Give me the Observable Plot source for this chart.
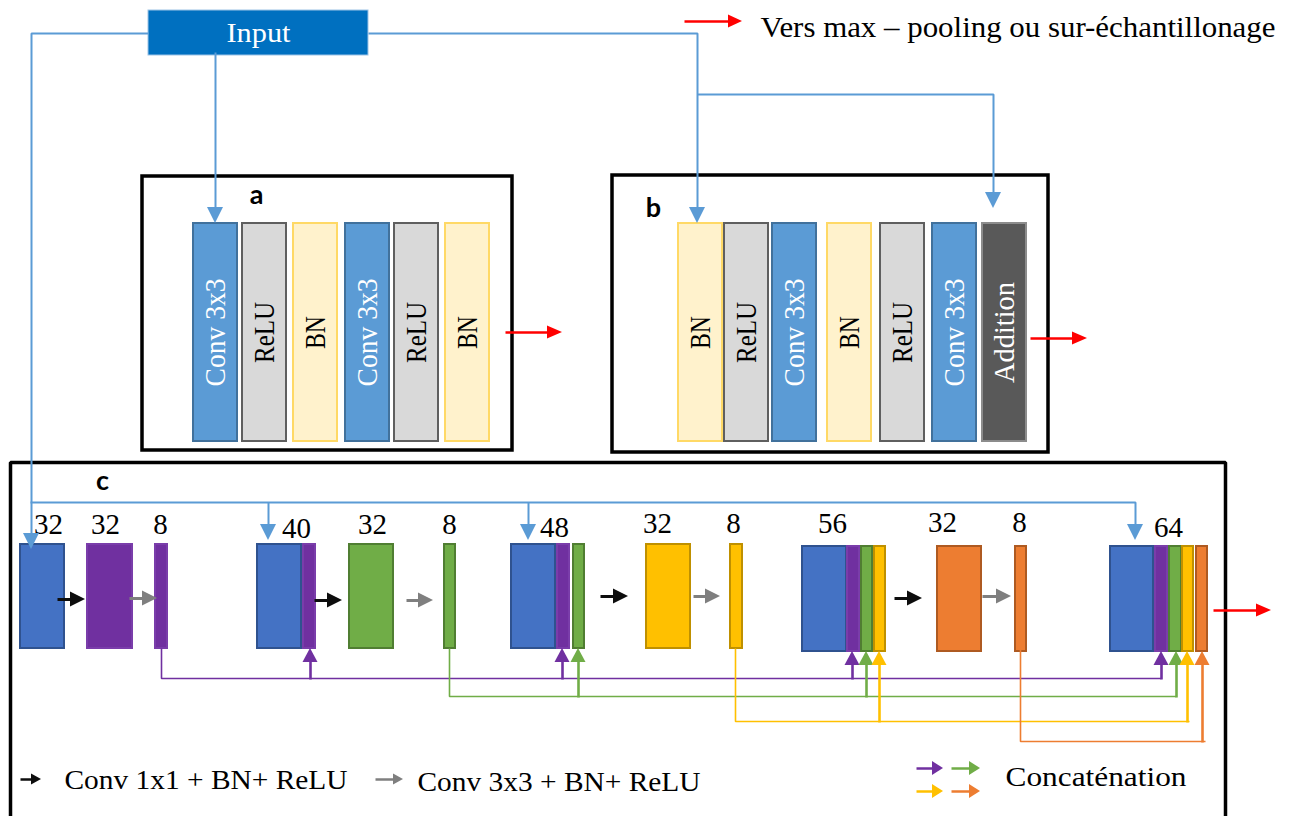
<!DOCTYPE html>
<html>
<head>
<meta charset="utf-8">
<script src="https://cdn.jsdelivr.net/npm/d3@7"></script>
<script src="https://cdn.jsdelivr.net/npm/@observablehq/plot@0.6"></script>
<style>
  html, body { margin: 0; padding: 0; background: #ffffff; overflow: hidden; }
  #chart svg { display: block; }
</style>
</head>
<body>
<div id="chart"></div>
<script>
// ================= DATA (content of the diagram) =================
const inputLabel = "Input";
const topLegendLabel = "Vers max – pooling ou sur-échantillonage";

const panelLabels = ["a", "b", "c"];
const panelALayers = ["Conv 3x3", "ReLU", "BN", "Conv 3x3", "ReLU", "BN"];
const panelBLayers = ["BN", "ReLU", "Conv 3x3", "BN", "ReLU", "Conv 3x3", "Addition"];

// Panel c: channel counts written above the feature-map groups
const panelCChannels = ["32", "32", "8", "40", "32", "8", "48", "32", "8", "56", "32", "8", "64"];
// Panel c: feature-map segments (in = input copy, p/g/y/o = purple/green/yellow/orange stage)
const panelCSegments = ["in","p","p","in","p","g","g","in","p","g","y","y","in","p","g","y","o","o","in","p","g","y","o"];
// Panel c: operations between blocks
const flowOps = ["1x1","3x3","1x1","3x3","1x1","3x3","1x1","3x3"];
// Concatenation sources
const concatSources = ["p", "g", "y", "o"];
const bottomLegendLabels = ["Conv 1x1 + BN+ ReLU", "Conv 3x3 + BN+ ReLU", "Concaténation"];

// ================= LAYOUT (diagram geometry, pixel space) =================
const W = 1292, H = 816;
const inputBox = {x1: 148, x2: 368, y1: 10, y2: 55, tx: 258, ty: 33};
const topLegend = {ax1: 684, ax2: 742, ay: 21, tx: 760, ty: 27};
const panelBoxes = [
  {x1: 142, x2: 512, y1: 176, y2: 450, lx: 256, ly: 195},
  {x1: 612, x2: 1048, y1: 175, y2: 452, lx: 653, ly: 208},
  {x1: 10, x2: 1225, y1: 462, y2: 816, lx: 102, ly: 481}
];
const barTop = 223, barBottom = 441, barW = 44, barLabelY = 332;
const panelALeft = [193, 242, 293, 345, 394, 445];
const panelBLeft = [678, 724, 772, 827, 880, 932, 982];

const segLeft  = [20, 87,155,257,303,349,444,511,557,573,646,730,802,847,861,874,937,1015,1110,1155,1169,1182,1196];
const segRight = [64,132,167,301,315,393,455,555,569,584,690,742,846,859,872,885,981,1026,1153,1167,1181,1193,1207];
const segTopA = 544, segBotA = 648, segTopB = 546, segBotB = 651, segSplit = 12;

const numX = [48,105,160,296,372,449,554,657,733,832,942,1019,1168];
const numY = [524,524,524,528,524,524,527,523,523,523,522,522,527];

const flowX1 = [57,129,314,406,600,693,894,982];
const flowX2 = [85,157,342,433,628,720,922,1011];
const flowY  = [599,598,600,600,596,596,598,596];

const concatSrcX   = {p: 161, g: 449, y: 735, o: 1020};
const concatSrcY   = {p: 648, g: 648, y: 648, o: 649};
const concatRailY  = {p: 678, g: 696, y: 721, o: 741};
const concatRailEnd= {p: 1161, g: 1176, y: 1189, o: 1205};
const concatTargets= {p: [310, 562, 852, 1161], g: [578, 866, 1176], y: [879, 1187], o: [1202]};
const concatTipY   = {p: [648, 648, 651, 651], g: [648, 651, 651], y: [651, 651], o: [651]};

const blueLines = [
  [[148, 33], [31, 33], [31, 549]],
  [[215, 52], [215, 223]],
  [[368, 33], [697, 33], [697, 223]],
  [[697, 94], [993, 94], [993, 208]],
  [[30, 502], [1135, 502], [1135, 540]],
  [[268, 502], [268, 540]],
  [[528, 502], [528, 540]]
];
const redArrows = [[505, 562, 332], [1030, 1087, 338], [1213, 1271, 610]];

const legendFlow = [{x1: 20, x2: 41, y: 779, tx: 64, ty: 780}, {x1: 375, x2: 403, y: 779, tx: 417, ty: 782}];
const legendConcat = [{k: "p", x1: 916, x2: 943, y: 768}, {k: "g", x1: 951, x2: 980, y: 768},
                      {k: "y", x1: 916, x2: 943, y: 791}, {k: "o", x1: 951, x2: 980, y: 791}];
const legendConcatText = {x: 1005, y: 777};

// ================= STYLES =================
const SERIF = "'Liberation Serif', 'Times New Roman', serif";
const SANS = "Lato, 'Open Sans', sans-serif";
const BLUE_LINE = "#5B9BD5";
const layerStyle = {
  "Conv 3x3": {fill: "#5B9BD5", stroke: "#41719C", text: "#FFFFFF"},
  "ReLU":     {fill: "#D9D9D9", stroke: "#5F5F5F", text: "#000000"},
  "BN":       {fill: "#FFF2CC", stroke: "#FFD966", text: "#000000"},
  "Addition": {fill: "#595959", stroke: "#8C8C8C", text: "#FFFFFF"}
};
const segStyle = {
  in: {fill: "#4472C4", stroke: "#2F528F"},
  p:  {fill: "#7030A0", stroke: "#7A3DAA"},
  g:  {fill: "#70AD47", stroke: "#507E32"},
  y:  {fill: "#FFC000", stroke: "#BF9000"},
  o:  {fill: "#ED7D31", stroke: "#AE5A21"}
};
const concatColor = {p: "#7030A0", g: "#70AD47", y: "#FFC000", o: "#ED7D31"};
const flowColor = {"1x1": "#0D0D0D", "3x3": "#7F7F7F"};
const fitWidth = {
  "Input": 64, "Vers max – pooling ou sur-échantillonage": 515,
  "Conv 3x3": 108, "ReLU": 61, "BN": 33, "Addition": 101,
  "Conv 1x1 + BN+ ReLU": 283, "Conv 3x3 + BN+ ReLU": 283, "Concaténation": 181
};

// ================= MARK HELPERS =================
const marks = [];
const px = d => d[0], py = d => d[1];
function poly(points, color, width, extra = {}) {
  marks.push(Plot.line(points, {x: px, y: py, stroke: color, strokeWidth: width, ...extra}));
}
function head(tx, ty, dir, len, wid, color) {
  let pts, opts;
  if (dir === "right") {
    pts = [{p: tx - len, a: ty - wid / 2, b: ty + wid / 2}, {p: tx, a: ty, b: ty}];
    opts = {x1: "p", y1: "a", y2: "b"};
  } else {
    const base = dir === "down" ? ty - len : ty + len;
    pts = [{p: base, a: tx - wid / 2, b: tx + wid / 2}, {p: ty, a: tx, b: tx}];
    opts = {y1: "p", x1: "a", x2: "b"};
  }
  marks.push(Plot.area(pts, {...opts, fill: color}));
}
function arrow(x1, y1, x2, y2, dir, color, width, len, wid) {
  let bx = x2, by = y2;
  if (dir === "right") bx = x2 - len + 1;
  else if (dir === "down") by = y2 - len + 1;
  else by = y2 + len - 1;
  poly([[x1, y1], [bx, by]], color, width, {strokeLinecap: "butt"});
  head(x2, y2, dir, len, wid, color);
}

// ================= BUILD MARKS =================
// Panel frames
marks.push(Plot.rect(panelBoxes.slice(0, 2), {x1: "x1", x2: "x2", y1: "y1", y2: "y2", fill: "none", stroke: "#000", strokeWidth: 3.5}));
const pc = panelBoxes[2];
poly([[pc.x1, pc.y2], [pc.x1, pc.y1], [pc.x2, pc.y1], [pc.x2, pc.y2]], "#000", 3.5, {strokeLinejoin: "miter", strokeLinecap: "butt"});

// Panel a / b layer bars
const barRows = [
  ...panelALayers.map((t, i) => ({t, x1: panelALeft[i], x2: panelALeft[i] + barW, ...layerStyle[t]})),
  ...panelBLayers.map((t, i) => ({t, x1: panelBLeft[i], x2: panelBLeft[i] + barW, ...layerStyle[t]}))
];
marks.push(Plot.rect(barRows, {x1: "x1", x2: "x2", y1: () => barTop, y2: () => barBottom, fill: "fill", stroke: "stroke", strokeWidth: 2}));
marks.push(Plot.text(barRows, {x: d => (d.x1 + d.x2) / 2, y: () => barLabelY, text: "t", rotate: -90, fill: "text",
  fontSize: 30, fontFamily: SERIF}));

// Panel c segments
const segRows = panelCSegments.map((k, i) => ({
  x1: segLeft[i], x2: segRight[i],
  y1: i < segSplit ? segTopA : segTopB, y2: i < segSplit ? segBotA : segBotB, ...segStyle[k]
}));
marks.push(Plot.rect(segRows, {x1: "x1", x2: "x2", y1: "y1", y2: "y2", fill: "fill", stroke: "stroke", strokeWidth: 2}));
marks.push(Plot.text(panelCChannels.map((t, i) => ({t, x: numX[i], y: numY[i]})),
  {x: "x", y: "y", text: "t", fill: "#000", fontSize: 29, fontFamily: SERIF}));

// Flow arrows
flowOps.forEach((op, i) => arrow(flowX1[i], flowY[i], flowX2[i], flowY[i], "right", flowColor[op], 3, 15, 15));

// Concatenation rails
concatSources.forEach(k => {
  const c = concatColor[k];
  poly([[concatSrcX[k], concatSrcY[k]], [concatSrcX[k], concatRailY[k]], [concatRailEnd[k], concatRailY[k]]], c, 1.6,
    {strokeLinejoin: "miter", strokeLinecap: "butt"});
  concatTargets[k].forEach((x, j) => arrow(x, concatRailY[k] + 1, x, concatTipY[k][j], "up", c, 2.6, 14, 15));
});

// Input box
marks.push(Plot.rect([inputBox], {x1: "x1", x2: "x2", y1: "y1", y2: "y2", fill: "#0070C0", stroke: "#9DC3E6", strokeWidth: 1}));

// Blue connection lines with arrow heads
blueLines.forEach(pts => {
  const last = pts[pts.length - 1], prev = pts[pts.length - 2];
  const body = pts.slice(0, -1).concat([[last[0], last[1] - 14]]);
  poly(body, BLUE_LINE, 2, {strokeLinejoin: "miter", strokeLinecap: "butt"});
  head(last[0], last[1], "down", 16, 16, BLUE_LINE);
});
marks.push(Plot.text([inputBox], {x: "tx", y: "ty", text: () => inputLabel, fill: "#FFFFFF", fontSize: 28, fontFamily: SERIF}));

// Red output arrows
redArrows.forEach(([x1, x2, y]) => arrow(x1, y, x2, y, "right", "#FF0000", 2.5, 15, 13));

// Top legend
arrow(topLegend.ax1, topLegend.ay, topLegend.ax2, topLegend.ay, "right", "#FF0000", 2.5, 14, 13);
marks.push(Plot.text([topLegend], {x: "tx", y: "ty", text: () => topLegendLabel, textAnchor: "start", fill: "#000",
  fontSize: 29, fontFamily: SERIF}));

// Panel letters
marks.push(Plot.text(panelBoxes.map((b, i) => ({t: panelLabels[i], x: b.lx, y: b.ly})),
  {x: "x", y: "y", text: "t", fontSize: 27, fontWeight: "bold", fontFamily: SANS, fill: "#000"}));

// Bottom legend
legendFlow.forEach((L, i) => {
  arrow(L.x1, L.y, L.x2, L.y, "right", flowColor[flowOps[i]], 2.5, 10, 11);
});
marks.push(Plot.text(legendFlow.map((L, i) => ({t: bottomLegendLabels[i], x: L.tx, y: L.ty})),
  {x: "x", y: "y", text: "t", textAnchor: "start", fill: "#000", fontSize: 27, fontFamily: SERIF}));
legendConcat.forEach(L => arrow(L.x1, L.y, L.x2, L.y, "right", concatColor[L.k], 2.5, 11, 14));
marks.push(Plot.text([legendConcatText], {x: "x", y: "y", text: () => bottomLegendLabels[2], textAnchor: "start",
  fill: "#000", fontSize: 27, fontFamily: SERIF}));

// ================= PLOT =================
const svg = Plot.plot({
  width: W, height: H,
  margin: 0,
  x: {domain: [0, W], range: [0, W], axis: null},
  y: {domain: [0, H], range: [0, H], axis: null},
  color: {type: "identity"},
  style: {background: "#ffffff", fontFamily: SERIF},
  marks
});
document.getElementById("chart").appendChild(svg);

// Condense serif text to the glyph widths of the original
svg.querySelectorAll("text").forEach(t => {
  const w = fitWidth[t.textContent];
  if (w) { t.setAttribute("textLength", w); t.setAttribute("lengthAdjust", "spacingAndGlyphs"); }
});
</script>
</body>
</html>
